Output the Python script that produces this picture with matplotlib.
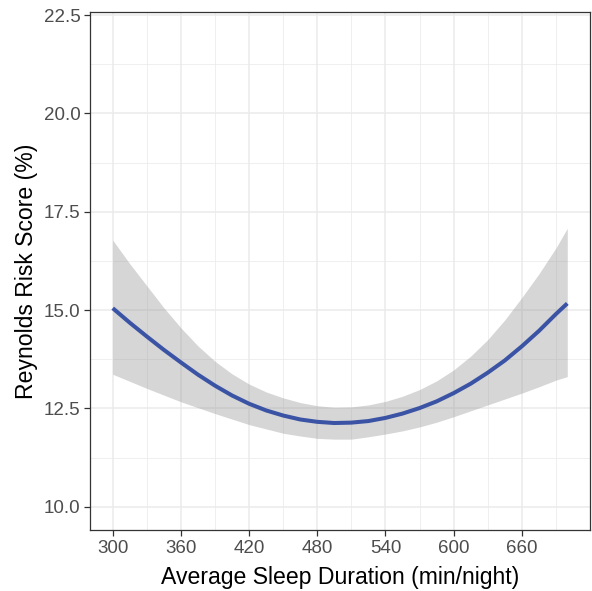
import matplotlib
matplotlib.use("Agg")
import matplotlib.pyplot as plt
from matplotlib.ticker import FixedLocator

plt.rcParams['font.family'] = ['Liberation Sans', 'DejaVu Sans']

sleep_min = [300, 315, 330, 345, 360, 375, 390, 405, 420, 435, 450, 465, 480, 495,
             510, 525, 540, 555, 570, 585, 600, 615, 630, 645, 660, 675, 690, 700]
fit = [15.05, 14.68, 14.33, 13.99, 13.67, 13.36, 13.08, 12.83, 12.62, 12.45, 12.32, 12.22, 12.16, 12.13,
       12.14, 12.18, 12.26, 12.37, 12.51, 12.68, 12.89, 13.13, 13.41, 13.72, 14.08, 14.47, 14.90, 15.17]
upper = [16.78, 16.18, 15.62, 15.06, 14.55, 14.09, 13.70, 13.38, 13.12, 12.92, 12.77, 12.65, 12.57, 12.53,
         12.54, 12.59, 12.68, 12.81, 12.98, 13.20, 13.48, 13.83, 14.25, 14.75, 15.32, 15.92, 16.58, 17.08]
lower = [13.37, 13.19, 13.01, 12.84, 12.67, 12.52, 12.37, 12.23, 12.09, 11.98, 11.87, 11.80, 11.74, 11.72,
         11.72, 11.78, 11.85, 11.93, 12.03, 12.15, 12.29, 12.44, 12.59, 12.74, 12.89, 13.05, 13.22, 13.31]

x_ticks = [300, 360, 420, 480, 540, 600, 660]
y_ticks = [10.0, 12.5, 15.0, 17.5, 20.0, 22.5]

fig = plt.figure(figsize=(5.92, 5.91), dpi=100)
ax = fig.add_axes([90/592, 1-530/591, 500/592, 518/591])

ax.set_xlim(280, 720)
ax.set_ylim(9.41, 22.58)

ax.xaxis.set_major_locator(FixedLocator(x_ticks))
ax.yaxis.set_major_locator(FixedLocator(y_ticks))
ax.xaxis.set_minor_locator(FixedLocator([270, 330, 390, 450, 510, 570, 630, 690]))
ax.yaxis.set_minor_locator(FixedLocator([11.25, 13.75, 16.25, 18.75, 21.25]))
ax.set_yticklabels([f"{v:.1f}" for v in y_ticks])

ax.grid(which='major', color='#EBEBEB', linewidth=1.1, zorder=0)
ax.grid(which='minor', color='#EBEBEB', linewidth=0.55, zorder=0)
ax.set_axisbelow(True)

ax.fill_between(sleep_min, lower, upper, color='#999999', alpha=0.4, linewidth=0, zorder=2)
ax.plot(sleep_min, fit, color='#3A53A4', linewidth=2.9, solid_capstyle='butt',
        solid_joinstyle='round', zorder=3)

for s in ax.spines.values():
    s.set_color('#333333')
    s.set_linewidth(0.9)

ax.tick_params(which='major', length=4, width=0.9, color='#333333', labelcolor='#4D4D4D', labelsize=13.5, pad=3)
ax.tick_params(which='minor', length=0)

ax.set_xlabel('Average Sleep Duration (min/night)', fontsize=16.6, color='black', labelpad=7)
ax.set_ylabel('Reynolds Risk Score (%)', fontsize=16.6, color='black', labelpad=4)

fig.savefig('out.png', dpi=100)
